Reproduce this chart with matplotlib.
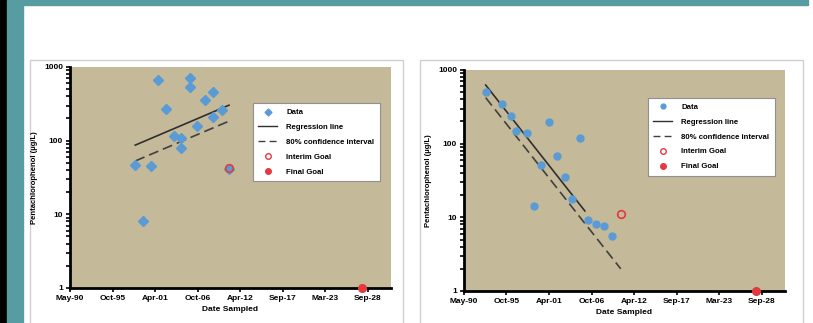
import matplotlib
matplotlib.use('Agg')
import matplotlib.pyplot as plt
import matplotlib.dates as mdates
from matplotlib.patches import Rectangle
from matplotlib.lines import Line2D
import numpy as np
import pandas as pd

plt.rcParams['font.family'] = ['Liberation Sans', 'DejaVu Sans']
plt.rcParams['font.weight'] = 'bold'

# left well
left_dates = ['1998-10-03', '1999-09-30', '2000-10-12', '2001-09-08', '2002-09-21',
              '2003-09-18', '2004-09-14', '2004-09-14', '2005-10-13', '2005-10-13',
              '2006-09-24', '2007-09-21', '2008-10-03', '2008-10-03', '2009-11-17',
              '2010-10-29']
left_values = [47, 8.2, 45, 660, 273, 116, 107, 80, 710, 530, 160, 354, 460, 210, 260, 41]
left_reg_dates = ['1998-10-03', '2010-10-29']
left_reg = [87, 303]
left_ci = [53, 184]
left_interim_date = ['2010-10-29']
left_interim = [42]

# right well
right_dates = ['1993-02-21', '1995-04-15', '1996-06-11', '1997-01-01', '1998-06-19',
               '1999-05-14', '2000-04-23', '2001-04-19', '2002-04-30', '2003-04-26',
               '2004-04-22', '2005-05-04', '2006-04-30', '2007-04-24', '2008-05-20',
               '2009-06-01']
right_values = [508, 342, 238, 149, 138, 14.3, 51, 199, 67, 35, 18, 118, 9.2, 8.0, 7.6, 5.6]
right_reg_dates = ['1993-02-21', '2005-12-01']
right_reg = [625, 12.2]
right_ci_dates = ['1993-02-21', '2010-07-15']
right_ci = [421, 2.0]
right_interim_date = ['2010-07-15']
right_interim = [11.2]

final_goal_date = ['2028-01-01']
final_goal = [1]

# Excel-style axis: serial 33000 .. 48100, major unit 2000 days
tick_serials = np.arange(33000, 47001, 2000)
ticks = pd.to_datetime(tick_serials, unit='D', origin='1899-12-30')
xlims = pd.to_datetime([33000, 48100], unit='D', origin='1899-12-30')

bg = '#C4B998'
blue = '#5B9BD5'
red = '#E23A3E'
teal = '#579CA0'

fig = plt.figure(figsize=(8.13, 3.23), dpi=100)
fig.patch.set_facecolor('white')

# slide decorations
fig.patches.append(Rectangle((0, 0), 7 / 813, 1, transform=fig.transFigure, color='black', zorder=-2))
fig.patches.append(Rectangle((7 / 813, 0), 16 / 813, 1, transform=fig.transFigure, color=teal, zorder=-2))
fig.patches.append(Rectangle((23 / 813, 1 - 5 / 323), 785 / 813, 5 / 323, transform=fig.transFigure,
                             color=teal, zorder=-2))
# chart panels
for x0, x1 in [(30, 403), (420, 803)]:
    fig.patches.append(Rectangle((x0 / 813, -0.05), (x1 - x0) / 813, 1.05 - 60 / 323,
                                 transform=fig.transFigure, facecolor='white',
                                 edgecolor='#D0D0D0', linewidth=1.0, zorder=-1))


def draw(ax, dates, values, marker, ms, reg_d, reg, ci_d, ci, int_d, int_v, ylabel, leg_anchor):
    ax.set_facecolor(bg)
    d = pd.to_datetime(dates)
    ax.plot(pd.to_datetime(reg_d), reg, color='#2F2F2F', lw=1.2, zorder=2)
    ax.plot(pd.to_datetime(ci_d), ci, color='#404040', lw=1.2, ls=(0, (6, 3)), zorder=2)
    ax.plot(d, values, ls='none', marker=marker, ms=ms, color=blue, mec=blue, zorder=3)
    ax.plot(pd.to_datetime(int_d), int_v, ls='none', marker='o', ms=5.5, mfc='none',
            mec=red, mew=1.2, zorder=4)
    ax.plot(pd.to_datetime(final_goal_date), final_goal, ls='none', marker='o', ms=5.5,
            color=red, zorder=5, clip_on=False)
    ax.set_yscale('log')
    ax.set_ylim(1, 1000)
    ax.set_xlim(xlims[0], xlims[1])
    ax.set_xticks(ticks)
    ax.xaxis.set_major_formatter(mdates.DateFormatter('%b-%y'))
    ax.set_yticks([1, 10, 100, 1000])
    ax.set_yticklabels(['1', '10', '100', '1000'])
    ax.tick_params(axis='both', which='major', labelsize=6, length=3, width=1.2, pad=2)
    ax.tick_params(axis='y', which='minor', length=3, width=1.2)
    for s in ['top', 'right']:
        ax.spines[s].set_visible(False)
    for s in ['left', 'bottom']:
        ax.spines[s].set_linewidth(2)
        ax.spines[s].set_color('black')
    ax.set_xlabel('Date Sampled', fontsize=6, fontweight='bold', labelpad=3)
    ax.set_ylabel(ylabel, fontsize=5.5, fontweight='bold', labelpad=4)

    handles = [
        Line2D([], [], ls='none', marker=marker, ms=3.5, color=blue),
        Line2D([], [], color='#2F2F2F', lw=1.0),
        Line2D([], [], color='#404040', lw=1.0, ls=(0, (5, 3))),
        Line2D([], [], ls='none', marker='o', ms=4, mfc='none', mec=red, mew=1.0),
        Line2D([], [], ls='none', marker='o', ms=4, color=red),
    ]
    labels = ['Data', 'Regression line', '80% confidence interval', 'Interim Goal', 'Final Goal']
    leg = ax.legend(handles, labels, loc='upper left', bbox_to_anchor=leg_anchor,
                    borderaxespad=0, labelspacing=0.95, handlelength=2.4,
                    handletextpad=1.2, borderpad=0.7, fancybox=False, framealpha=1,
                    edgecolor='#909090', prop={'size': 5.6, 'weight': 'bold'})
    leg.get_frame().set_linewidth(0.8)


axL = fig.add_axes([0.0861, 0.1084, 0.3948, 0.6842])
draw(axL, left_dates, left_values, 'D', 5, left_reg_dates, left_reg, left_reg_dates, left_ci,
     left_interim_date, left_interim, 'Pentachlorophenol (\u00b5g/L)', (0.57, 0.835))

axR = fig.add_axes([0.5707, 0.0991, 0.3948, 0.6842])
draw(axR, right_dates, right_values, 'o', 5, right_reg_dates, right_reg, right_ci_dates, right_ci,
     right_interim_date, right_interim, 'Pentachlorophenol (\u00b5g/L)', (0.573, 0.873))

fig.savefig('out.png', dpi=100)
